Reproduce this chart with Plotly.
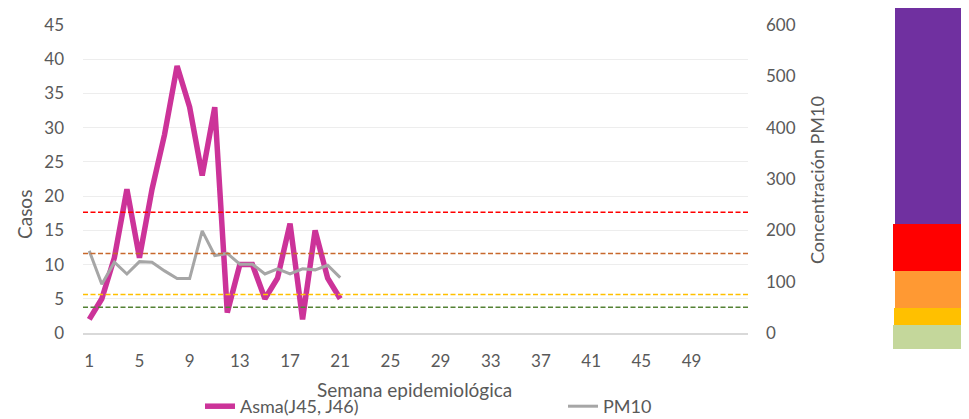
import plotly.graph_objects as go

# ---------------- data ----------------
weeks = list(range(1, 22))
asma = [2, 5, 11, 21, 11, 21, 29, 39, 33, 23, 33, 3, 10, 10, 5, 8, 16, 2, 15, 8, 5]
pm10 = [160, 95, 138, 115, 139, 138, 121, 106, 106, 199, 151, 155, 134, 134, 115, 125, 115, 125, 123, 132, 108]
tick_weeks = list(range(1, 50, 4))
threshold_values = [50, 75, 155, 235]
threshold_colors = ["#548235", "#FFC000", "#C8682C", "#FF0000"]
band_colors = ["#7030A0", "#FF0000", "#FF9933", "#FFC000", "#C4D79B"]

FONT = "Lato"
GREY = "#595959"

# ---------------- geometry (page has an 8px body margin) ----------------
OFF = 8
W, H = 969 - OFF, 419 - OFF
L, R, T, B = 75, 221, 17, 86
PW, PH = W - L - R, H - T - B


def xp(px):
    """reference page pixel x -> paper"""
    return (px - OFF - L) / PW


def yp(py):
    """reference page pixel y -> paper"""
    return (H - B - (py - OFF)) / PH


def xc(px):
    """reference page pixel x -> container"""
    return (px - OFF) / W


def yc(py):
    """reference page pixel y -> container"""
    return 1 - (py - OFF) / H


fig = go.Figure()

fig.add_trace(go.Scatter(
    x=weeks, y=asma, name="Asma(J45, J46)", mode="lines", legend="legend",
    line=dict(color="#CC3399", width=5.5),
))
fig.add_trace(go.Scatter(
    x=weeks, y=pm10, name="PM10", mode="lines", yaxis="y2", legend="legend2",
    line=dict(color="#A6A6A6", width=3),
))

shapes = []
for v, c in zip(threshold_values, threshold_colors):
    shapes.append(dict(type="line", xref="paper", yref="y2", x0=0, x1=1, y0=v, y1=v,
                       line=dict(color=c, width=1.5, dash="5px,2.5px")))
band_px = [(0, 224, 895), (224, 271, 893), (271, 308, 895), (308, 325, 894), (325, 349, 893)]
for (top, bot, left), c in zip(band_px, band_colors):
    shapes.append(dict(type="rect", xref="paper", yref="paper", layer="above",
                       x0=xp(left), x1=xp(969 + 2), y0=yp(bot), y1=yp(top - 10 if top == 0 else top),
                       fillcolor=c, line=dict(width=0)))

annotations = [
    dict(text="Casos", x=xp(25), y=yp(215), xref="paper", yref="paper", textangle=-90,
         showarrow=False, xanchor="center", yanchor="middle",
         font=dict(family=FONT, size=19, color=GREY)),
    dict(text="Concentración PM10", x=xp(817), y=yp(180), xref="paper", yref="paper",
         textangle=-90, showarrow=False, xanchor="center", yanchor="middle",
         font=dict(family=FONT, size=18, color=GREY)),
    dict(text="Semana epidemiológica", x=xp(414), y=yp(389), xref="paper", yref="paper",
         showarrow=False, xanchor="center", yanchor="middle",
         font=dict(family=FONT, size=19, color=GREY)),
]

legend_common = dict(orientation="h", xref="container", yref="container",
                     xanchor="left", yanchor="top",
                     font=dict(family=FONT, size=18, color=GREY),
                     bgcolor="rgba(0,0,0,0)")

fig.update_layout(
    width=W, height=H,
    margin=dict(l=L, r=R, t=T, b=B, autoexpand=False),
    paper_bgcolor="white",
    plot_bgcolor="white",
    font=dict(family=FONT, size=17, color=GREY),
    showlegend=True,
    legend=dict(x=xc(200), y=yc(388), **legend_common),
    legend2=dict(x=xc(563), y=yc(388), **legend_common),
    xaxis=dict(range=[0.5, 53.5], tickmode="array", tickvals=tick_weeks,
               ticktext=[str(t) for t in tick_weeks], showgrid=False,
               showline=True, linecolor="#D9D9D9", linewidth=1.5, ticks="",
               zeroline=False, ticklabelstandoff=12,
               tickfont=dict(family=FONT, size=17, color=GREY)),
    yaxis=dict(range=[0, 45], dtick=5, showgrid=True, gridcolor="#EDEDED", gridwidth=1,
               zeroline=False, ticks="", ticklabelstandoff=18,
               tickfont=dict(family=FONT, size=17, color=GREY)),
    yaxis2=dict(range=[0, 600], dtick=100, overlaying="y", side="right", showgrid=False,
                zeroline=False, ticks="", ticklabelstandoff=17,
                tickfont=dict(family=FONT, size=17, color=GREY)),
    shapes=shapes,
    annotations=annotations,
)

fig.write_html("out.html")
